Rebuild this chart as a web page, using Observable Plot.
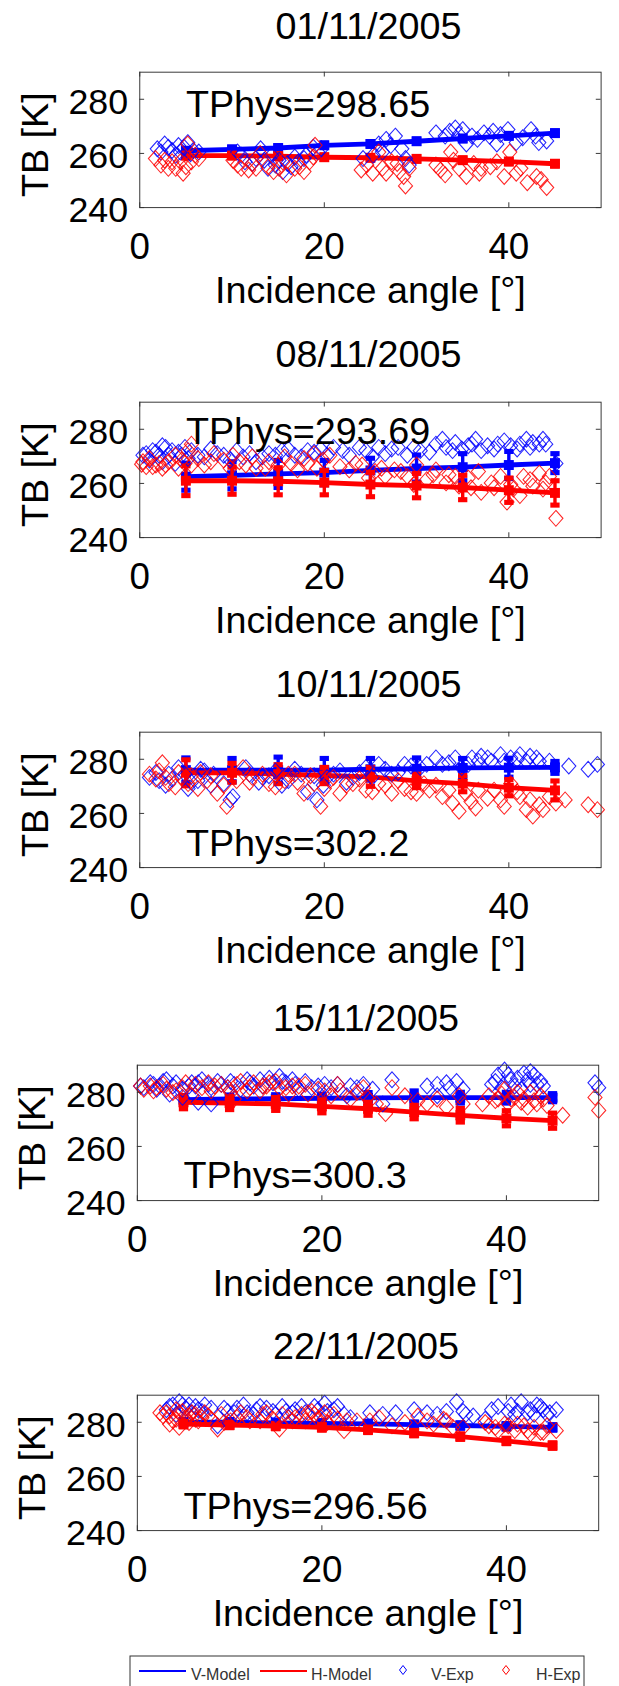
<!DOCTYPE html>
<html>
<head>
<meta charset="utf-8">
<script src="https://cdn.jsdelivr.net/npm/d3@7"></script>
<script src="https://cdn.jsdelivr.net/npm/@observablehq/plot@0.6"></script>
<style>
  html, body { margin: 0; padding: 0; background: #fff; overflow: hidden; }
  #page { position: relative; width: 619px; height: 1686px; overflow: hidden; background: #fff; }
  #page svg { position: absolute; left: 0; }
</style>
</head>
<body>
<div id="page"></div>
<script>
// ---- data -------------------------------------------------------------
const dates = ["01/11/2005", "08/11/2005", "10/11/2005", "15/11/2005", "22/11/2005"];
const tphys = ["298.65", "293.69", "302.2", "300.3", "296.56"];

const modelAngles = [5, 10, 15, 20, 25, 30, 35, 40, 45];

// modelled brightness temperature, vertical / horizontal polarisation (K)
const vModel = [
  [261, 261.5, 262, 263, 263.5, 264.5, 265.5, 266.5, 267.5],
  [262.5, 263, 263.5, 264, 264.8, 265.5, 266, 266.8, 267.5],
  [276, 276, 276, 276, 276.3, 276.5, 276.8, 276.9, 277],
  [277.3, 277.5, 277.6, 277.8, 277.9, 278, 278, 278, 278],
  [280, 280, 279.8, 279.6, 279.4, 279.1, 278.8, 278.5, 278.1]
];
const hModel = [
  [259.2, 259.2, 259, 258.6, 258.4, 258, 257.5, 257, 256.2],
  [261, 261, 260.8, 260.3, 259.6, 259.2, 258.5, 257.5, 256.5],
  [275, 275, 274.5, 274, 273.5, 272, 271, 269.5, 268.5],
  [276.3, 276, 275.7, 274.8, 273.9, 272.7, 271.5, 270.4, 269.5],
  [279.3, 279, 278.6, 278.1, 277.2, 276, 274.7, 273.1, 271.4]
];
// half-width of the model error bars (K)
const vErr = [
  [0.8, 0.8, 0.8, 0.8, 0.8, 0.8, 0.8, 0.8, 0.8],
  [5, 5, 5, 4.5, 4.5, 5, 5, 5, 3.5],
  [4.5, 4.3, 4.8, 4.3, 4, 4, 3.5, 3.5, 2.2],
  [1.5, 1.5, 1.5, 1.5, 2, 2.5, 2, 2, 1.5],
  [1, 1, 1, 1, 1, 1, 1, 1, 1]
];
const hErr = [
  [0.8, 0.8, 0.8, 0.8, 0.8, 0.8, 0.8, 0.8, 0.8],
  [5.5, 5, 5, 4.5, 4.5, 4.5, 4.5, 4.5, 4.5],
  [4.8, 3.5, 3.5, 3, 3.5, 2.5, 3, 3, 3.5],
  [2.4, 2.4, 2.4, 2.4, 2.4, 2.5, 2.5, 2.8, 2.8],
  [1, 1, 1, 1, 1, 1, 1, 1, 1]
];

// measured brightness temperatures: [incidence angle (deg), TB (K)]
const vExp = [
  [[1.9,261.7],[3.1,262.3],[4.2,262.9],[5.2,264],[4.4,260.5],[5.8,261.1],[6.4,260.5],[2.3,260.5],[3.9,259.3],
   [2.7,263.5],[3.5,261.1],[4.8,262.3],[5.5,259.9],
   [10.6,260.5],[11.4,256.9],[12.2,256.3],[13.1,261.7],[13.9,254.5],[14.7,255.7],[15.5,253.3],[16.4,255.1],[17.2,256.9],[18,259.3],[18.8,262.3],[19.7,261.7],[12.6,258.1],[15.1,257.5],[17.8,258.1],
   [11,259.3],[13.5,257.5],[14.3,259.3],[16,256.3],[16.8,258.7],[19.3,260.5],
   [24.2,258.1],[25.9,263.5],[26.7,265.2],[27.7,266.4],[28.4,261.7],[28.8,258.1],[29.2,255.7],[26.3,260.5],[25.3,259.3],[27.2,262.9],
   [32.1,267.6],[33.1,266.4],[34.2,269.4],[35,268.8],[36,266.4],[36.6,265.2],[37.9,266.4],[39.1,267],[39.9,268.8],[40.8,264],[42.4,268.8],[43.25,264],[44.1,264.6],[35.4,263.5],[38.7,263.5],
   [33.6,268.2],[34.6,267],[37.3,267.6],[38.3,268.2],[41.5,265.8],[42.9,266.4]],
  [[0.7,271],[1.4,272.1],[2.1,270.4],[2.8,273.3],[3.5,272.1],[4.2,271.5],[4.9,273.3],[5.6,272.1],[1.05,268.6],[2.45,268],[3.85,267.4],[5.24,269.2],
   [0.35,270.4],[1.75,271.5],[3.15,270.4],[4.54,270.4],[2.45,273.9],
   [7,269.8],[8.4,271],[9.8,268.6],[11.2,269.8],[12.6,268],[14,271],[15.4,272.1],[16.8,270.4],[18.2,272.1],[19.6,272.7],[21,273.3],
   [6.3,270.4],[7.7,272.7],[9.1,270.4],[10.5,272.1],[11.9,271],[13.3,269.8],[14.7,270.4],[16.1,272.7],[17.5,269.8],[18.9,271.5],[20.3,270.4],
   [22,272.1],[23.8,273.3],[25.2,269.8],[26.6,271],[28,273.3],[29,270.4],[30.4,272.1],
   [22.7,270.4],[24.5,272.1],[25.9,273.3],[27.3,272.7],[29.7,273.3],[31.4,271.5],
   [32.1,274.5],[33.2,273.3],[34.2,275.1],[34.9,272.7],[36,274.5],[37,272.1],[37.7,273.9],[38.4,272.7],[39.5,275.7],[40.2,273.9],[41.2,274.5],[41.9,276.3],[42.6,275.1],[43.3,274.5],[44,274.5],[45.1,267.4],
   [32.8,276.3],[33.9,272.1],[35.6,273.9],[36.4,276.3],[38.8,274.5],[40.9,272.7],[42.3,273.3],[43.7,276.3]],
  [[1.05,273.3],[2.1,272.1],[3.15,274.5],[4.2,276.9],[5.24,269.2],[6.3,272.1],[7,275.7],[8,274.5],[9.1,271],[10.1,266.2],[9.8,265],
   [1.75,275.1],[2.8,270.4],[3.5,272.7],[4.9,274.5],[5.6,271.5],[6.6,276.3],[7.7,270.4],
   [11.5,276.9],[13.3,273.3],[14.7,275.7],[16.1,272.1],[17.5,274.5],[18.2,268],[19.2,265],[20.3,273.3],
   [11.9,274.5],[12.9,271.5],[14,273.9],[15.4,270.4],[16.8,276.3],[18.9,273.9],[19.9,270.4],
   [21.7,275.7],[23.1,273.3],[24.5,276.9],[25.9,278.1],[27.3,274.5],[28.7,278.1],[30.4,276.9],[32.1,280.5],[33.5,278.7],[34.9,276.9],[36,280.5],
   [21,274.5],[22.4,271.5],[23.8,275.1],[25.2,273.3],[26.6,276.3],[28,275.1],[29.4,277.5],[31.1,278.1],[32.8,278.1],[34.2,280.5],[35.6,278.1],
   [37,281.1],[38.1,279.3],[39.1,281.7],[40.2,280.5],[41.2,281.7],[42.3,281.1],[43.3,279.3],[44.4,279.3],[46.5,277.5],[48.6,276.3],[49.6,278.1],
   [36.7,279.3],[37.7,280.5],[39.5,279.3],[40.9,279.9],[41.9,279.3],[43,280.5]],
  [[0.7,281.7],[1.75,282.9],[2.8,284],[3.85,282.3],[4.9,281.1],[5.9,283.5],[7,284.6],[8,281.7],[9.1,282.9],[10.1,284],[11.2,281.1],[12.2,283.5],[13.3,284.6],[14.3,285.2],[15.4,285.8],[16.1,283.5],[6.6,276.3],[8,275.7],[4.9,278.1],[3.5,279.3],
   [2.1,281.1],[4.2,283.5],[6.3,282.3],[9.8,281.7],[12.6,282.3],[14.7,283.5],[16.8,284.6],
   [0.35,282.3],[1.4,283.5],[2.45,282.3],[3.15,284.6],[5.6,282.3],[6.6,283.5],[7.7,282.9],[8.7,284],[10.5,282.9],[11.9,284.6],[13.6,282.3],[15.7,284],
   [17.5,281.1],[18.9,281.7],[20.3,282.9],[21.7,282.9],[23.1,282.3],[24.5,282.9],[25.5,281.1],[26.6,275.7],[27.6,284.6],[22.7,278.7],
   [17.1,282.9],[18.2,284],[19.6,282.3],[21,281.7],[23.8,281.7],
   [31.4,282.3],[32.5,282.9],[33.5,283.5],[34.6,284],[35.3,281.1],[32.5,278.7],[33.9,281.7],
   [38.4,282.9],[39.1,286.4],[39.8,288.2],[40.5,284.6],[41.2,285.2],[41.9,287],[42.6,287.6],[43.3,282.9],[39.5,281.7],[41.6,281.1],[42.6,282.9],[43.7,284],
   [38.8,284],[40.2,286.4],[40.9,282.3],[42.3,284.6],[43,286.4],[44,282.3],
   [49.6,283.5],[50,281.7]],
  [[3.15,284.6],[3.85,286.4],[4.54,287.6],[5.24,285.2],[5.9,283.5],[7,284],[8,285.2],[8.7,278.7],[4.2,282.9],[4.9,286.4],[6.3,285.8],
   [3.5,285.8],[5.6,286.4],[6.6,284.6],[7.3,286.4],
   [9.8,284],[10.8,285.2],[11.9,283.5],[12.9,284.6],[14,285.2],[15,282.9],[16.1,284],[17.1,284.6],[18.2,283.5],[19.2,285.8],[20.3,287],[21.3,284.6],[22.4,282.9],[23.1,281.7],
   [9.4,285.2],[10.5,283.5],[11.5,286.4],[12.6,282.9],[13.3,285.8],[14.7,284],[15.7,285.8],[16.8,283.5],[17.8,285.8],[19.6,284.6],[20.6,284],[21.7,285.8],
   [25.2,283.5],[26.6,282.9],[28,283.5],[30,284.6],[31.4,283.5],[32.5,282.9],[33.5,284],[34.6,287.6],[35.3,284],[35.6,282.9],
   [37.7,281.1],[38.4,284.6],[39.1,285.8],[40.2,284],[40.9,282.9],[41.6,287.6],[42.6,284.6],[43.3,286.4],[44,284.6],[44.7,283.5],[45.4,284.6],[43,282.9],
   [36.4,282.3],[40.5,286.4],[41.2,284],[42.3,283.5],[43.7,285.8],[44.4,282.9]]
];
const hExp = [
  [[1.7,258.1],[2.3,255.7],[3.1,254.5],[3.9,254.5],[4.7,252.7],[5.2,263.5],[5.6,256.9],[6.4,258.1],[4.4,256.9],
   [2.7,257.5],[3.5,256.9],[5,255.1],[6,259.3],
   [10.1,257.5],[11,254.5],[11.8,253.9],[12.6,254.5],[13.05,260],[13.9,255.1],[15.1,254.5],[15.9,252.1],[16.8,254.5],[17.8,253.3],[18.4,256.9],[19,263],
   [10.6,255.7],[12.2,256.3],[14.5,253.3],[15.5,256.9],[17.3,255.1],[18.8,258.7],
   [24,253.9],[25.25,252.7],[25.9,260.5],[26.7,252.7],[27.3,256.9],[27.9,256.3],[28.6,251.5],[28.8,248],[28.15,253.3],
   [24.6,255.7],[26.3,254.5],[29.2,254.5],
   [32.1,255.7],[33.1,252.1],[33.7,260.5],[34.6,254.5],[35.4,251.5],[36.2,256.3],[37,254.5],[38.7,256.9],[39.5,251.5],[40.1,260.5],[40.8,252.7],[42,249.2],[43.5,250.4],[44.1,247.4],
   [32.6,253.9],[34,257.5],[36.8,252.7],[38,255.1],[41.3,254.5],[43,251.5]],
  [[0.2,267.1],[0.35,268],[1.05,269.2],[1.75,266.8],[2.45,265.6],[3.15,268],[3.85,270.4],[4.54,268.6],[5.24,272.1],[5.6,266.8],[1.4,266.2],
   [0.7,266.2],[2.1,267.4],[2.8,266.8],[4.2,265.6],[4.9,267.4],[5.6,274.5],
   [7,266.8],[8.04,271],[9.1,268.6],[10.1,270.4],[11.5,266.8],[12.6,265.6],[14,268],[15,266.8],[16.4,267.4],[17.8,269.2],[18.9,271],[19.9,268.6],
   [6.3,269.2],[7.7,268],[9.8,265.6],[10.8,268],[12.2,269.8],[13.6,265.6],[15.7,269.8],[17.1,265],[18.2,267.4],[19.2,265.6],[20.6,270.4],
   [21.7,266.2],[22.7,265],[24.1,266.8],[25.5,264.4],[26.6,262.6],[27.6,265],[29,262.6],[30,266.8],[31.1,261.4],
   [23.4,267.4],[24.8,262],[26.2,265.6],[28.3,264.4],[29.7,259.6],[31.8,263.2],
   [32.1,265],[33.5,263.2],[34.6,259],[35.6,262],[37,256.7],[38.1,260.2],[39.1,262.6],[39.8,253.1],[40.5,257.9],[41.6,262.6],[42.6,259],[43.3,263.8],[44,260.2],[45.1,247.1],
   [33.2,260.2],[34.2,262.6],[35.9,258.4],[36.7,264.4],[38.4,258.4],[40.2,259.6],[41.2,255.5],[42.3,261.4],[43.7,257.9],[44.4,262.6]],
  [[1.05,274.5],[1.75,272.7],[2.45,278.7],[3.15,271],[3.85,269.8],[4.54,273.3],[5.6,273.9],[6.3,269.2],[7.3,272.1],[8.4,267.4],[9.43,262.6],[10.5,272.1],[11.2,276.9],
   [2.1,275.7],[2.8,273.3],[4.2,275.1],[5.24,271],[6.6,275.1],[7.7,273.9],[9.1,270.4],
   [12.2,273.3],[14,271],[15.7,272.1],[16.8,274.5],[17.8,267.4],[18.9,271],[19.6,262.6],[20.6,272.1],
   [11.9,271.5],[13.3,274.5],[14.7,269.8],[16.1,274.5],[17.1,271.5],[18.5,273.9],[20,269.2],
   [21.7,267.4],[23.1,271],[24.5,268.6],[25.9,271],[27.3,267.4],[28.7,269.2],[30,267.4],[31.4,268.6],[32.8,266.2],[33.9,263.8],[34.6,260.8],[35.3,267.4],
   [21,273.3],[22.4,270.4],[23.8,272.7],[25.2,268],[26.6,270.4],[28,272.1],[29.4,268],[30.8,271],[32.1,270.4],[33.5,268.6],
   [36.7,268.6],[37.7,265.6],[39.1,265],[40.2,271],[41.2,266.2],[41.9,261.4],[42.6,259],[43.7,261.4],[45.1,263.8],[46.1,265],[48.6,263.2],[49.6,261.4],
   [35.9,264.4],[36.4,262],[38.4,268.6],[39.5,262.6],[40.9,268],[42.3,265],[43.3,263.2],[44.4,266.2]],
  [[0.7,281.1],[1.75,280.5],[2.8,282.9],[3.85,279.9],[4.9,281.7],[5.9,278.7],[7,281.7],[8,280.5],[9.1,282.9],[10.1,279.9],[11.2,284],[12.2,281.7],[13.3,280.5],[14.3,283.5],[15.4,281.7],[16.4,279.3],[10.5,277.5],
   [1.4,282.3],[3.15,281.1],[5.24,283.5],[7.7,283.5],[9.8,281.7],[12.6,283.5],[14,282.3],[16.1,281.7],
   [0.35,282.3],[2.1,281.7],[4.2,280.5],[6.3,282.9],[8.4,282.3],[10.8,282.9],[11.9,280.5],[13.6,282.3],[15,284],[16.8,282.3],
   [17.5,282.3],[18.5,279.3],[19.6,281.1],[21,278.7],[22,280.5],[23.1,277.5],[24.5,281.7],[25.9,275.7],[26.9,272.1],[27.6,281.7],[25.2,276.9],
   [18.2,282.9],[20.3,280.5],[21.7,282.9],[23.8,279.9],[24.9,278.1],
   [29,278.7],[30.4,276.9],[31.4,275.7],[32.5,277.5],[33.5,274.5],[34.9,278.7],[35.3,275.7],
   [38.1,278.7],[38.8,276.9],[39.5,279.3],[40.2,275.7],[40.9,278.1],[41.6,276.3],[42.3,274.5],[43,276.9],[43.7,278.7],[44.4,275.1],[46.1,271.5],
   [37.4,275.7],[39.1,277.5],[39.8,281.1],[40.5,277.5],[41.2,279.9],[41.9,277.5],[42.6,279.9],[43.3,275.7],[44,277.5],
   [49.6,278.1],[50,273.3]],
  [[2.8,282.3],[3.5,279.3],[4.2,281.1],[4.9,284],[5.6,279.9],[6.3,282.9],[7,281.7],[8,281.1],[8.7,277.5],[4.54,278.1],
   [3.15,283.5],[3.85,280.5],[4.2,284.6],[5.24,281.7],[5.9,283.5],[6.6,280.5],[7.3,283.5],
   [2.45,283.5],[3.5,282.3],[4.54,283.5],[5.6,282.3],[6.3,281.1],[7.7,282.3],
   [9.4,279.9],[10.8,281.7],[12.2,280.5],[13.6,282.9],[14.7,281.1],[15.4,277.5],[16.4,281.7],[17.8,282.9],[18.9,284],[19.6,281.1],[20.6,279.9],[21.7,281.1],[22.4,276.9],
   [17.1,281.7],[18.2,280.5],[19.2,282.9],[20.3,283.5],
   [9.1,282.9],[10.1,280.5],[11.2,283.5],[11.9,281.7],[13.3,280.5],[14,283.5],[15.7,282.9],[16.8,280.5],[18.5,283.5],[19.9,281.7],[21.3,282.9],[22.7,280.5],[23.8,280.5],
   [25.2,280.5],[26.2,281.7],[27.6,278.7],[29,279.9],[30.4,282.3],[31.4,280.5],[33.2,281.1],[34.2,278.1],[35.3,278.1],[32.1,279.3],[33.5,280.5],
   [37.7,279.9],[38.8,278.1],[39.8,279.3],[40.9,276.9],[41.9,278.7],[42.6,275.7],[43.7,276.3],[44.4,278.7],[45.4,276.9],
   [38.1,278.7],[39.1,276.9],[40.2,278.7],[41.2,279.3],[42.3,276.9],[43,278.1],[44,276.3]]
];

const xTicks = [0, 20, 40];
const yTicks = [240, 260, 280];
// where each "TPhys=" note sits, in data units [angle, TB]
const tphysAt = [[5, 273.6], [5, 274.5], [5, 244.2], [5, 244.8], [5, 244.2]];

// ---- layout -------------------------------------------------------------
const FONT = "'Liberation Sans', Arial, Helvetica, sans-serif";
const BLUE = "#0000ff", RED = "#ff0000", INK = "#333";
const frameTop = [74, 404, 734, 1067, 1397];
const frameLeft = [144, 144, 144, 141.5, 141.5];
const titleGap = [34, 36, 36, 35, 37];
const FRAME_W = 477, FRAME_H = 140;
const M_TOP = 70, M_BOTTOM = 110, SVG_W = 640;

// hollow diamond, a little taller than wide
const diamond = {
  draw(ctx, size) {
    const r = Math.sqrt(size / Math.PI), h = r * 1.12;
    ctx.moveTo(0, -h); ctx.lineTo(r, 0); ctx.lineTo(0, h); ctx.lineTo(-r, 0); ctx.closePath();
  }
};
// flat block used as error-bar cap
const cap = {
  draw(ctx, size) {
    const r = Math.sqrt(size / Math.PI);
    ctx.rect(-r, -r * 0.55, 2 * r, r * 1.1);
  }
};

function modelRows(vals, errs) {
  return modelAngles.map((a, k) => ({a, tb: vals[k], lo: vals[k] - errs[k], hi: vals[k] + errs[k]}));
}

function modelMarks(rows, color) {
  return [
    Plot.line(rows, {x: "a", y: "tb", stroke: color, strokeWidth: 5}),
    Plot.ruleX(rows, {x: "a", y1: "lo", y2: "hi", stroke: color, strokeWidth: 3.5}),
    Plot.dot(rows, {x: "a", y: "lo", symbol: cap, r: 4.8, fill: color}),
    Plot.dot(rows, {x: "a", y: "hi", symbol: cap, r: 4.8, fill: color}),
    Plot.dot(rows, {x: "a", y: "tb", symbol: "square", r: 5.8, fill: color})
  ];
}

function expMarks(points, color) {
  return Plot.dot(points, {x: d => d[0], y: d => d[1], symbol: diamond, r: 7.3,
    stroke: color, fill: "none", strokeWidth: 1.1, strokeOpacity: 0.85});
}

function panel(i) {
  const ml = frameLeft[i];
  const inX = FRAME_W - 5, inY = FRAME_H - 5;
  const svg = Plot.plot({
    width: SVG_W,
    height: M_TOP + FRAME_H + M_BOTTOM,
    marginTop: M_TOP,
    marginBottom: M_BOTTOM,
    marginLeft: ml,
    marginRight: SVG_W - ml - FRAME_W,
    x: {domain: [0, 50], axis: null},
    y: {domain: [240, 290], axis: null},
    style: {fontFamily: FONT, color: "#000", background: "transparent", overflow: "visible"},
    marks: [
      ...modelMarks(modelRows(vModel[i], vErr[i]), BLUE),
      ...modelMarks(modelRows(hModel[i], hErr[i]), RED),
      expMarks(vExp[i], BLUE),
      expMarks(hExp[i], RED),
      Plot.frame({stroke: INK, strokeWidth: 1}),
      // inward ticks on all four sides
      Plot.tickX(xTicks, {x: d => d, insetBottom: inY, stroke: INK}),
      Plot.tickX(xTicks, {x: d => d, insetTop: inY, stroke: INK}),
      Plot.tickY(yTicks, {y: d => d, insetRight: inX, stroke: INK}),
      Plot.tickY(yTicks, {y: d => d, insetLeft: inX, stroke: INK}),
      // tick labels
      Plot.text(xTicks, {x: d => d, text: d => String(d), frameAnchor: "bottom", dy: 53,
        lineAnchor: "bottom", fontSize: 38, fill: "#000"}),
      Plot.text(yTicks, {y: d => d, text: d => String(d), frameAnchor: "left", dx: -12, dy: 15,
        textAnchor: "end", lineAnchor: "bottom", fontSize: 37, fill: "#000"}),
      // axis labels
      Plot.text(["Incidence angle [°]"], {frameAnchor: "bottom", dy: 99, lineAnchor: "bottom",
        fontSize: 39, fill: "#000"}),
      Plot.text(["TB [K]"], {frameAnchor: "left", dx: -95, dy: 5, rotate: -90,
        lineAnchor: "bottom", textAnchor: "middle", fontSize: 39, fill: "#000"}),
      // panel title
      Plot.text([dates[i]], {frameAnchor: "top", dy: -titleGap[i], dx: -2, lineAnchor: "bottom",
        fontSize: 39, fill: "#000"}),
      // physical temperature note
      Plot.text([tphysAt[i]], {x: d => d[0], y: d => d[1], text: () => "TPhys=" + tphys[i],
        textAnchor: "start", lineAnchor: "bottom", fontSize: 39, fill: "#000"})
    ]
  });
  svg.style.top = (frameTop[i] - M_TOP) + "px";
  return svg;
}

const page = document.getElementById("page");
dates.forEach((_, i) => page.appendChild(panel(i)));

// ---- legend (bottom, partly outside the page) ----------------------------
const legendItems = [
  {label: "V-Model", color: BLUE, kind: "line", x: 9, tx: 61},
  {label: "H-Model", color: RED, kind: "line", x: 130, tx: 181},
  {label: "V-Exp", color: BLUE, kind: "diamond", x: 273, tx: 301},
  {label: "H-Exp", color: RED, kind: "diamond", x: 376, tx: 406}
];
const legend = d3.create("svg")
  .attr("width", 456).attr("height", 40)
  .style("left", "129px").style("top", "1655px");
legend.append("rect").attr("x", 1).attr("y", 1).attr("width", 454).attr("height", 60)
  .attr("fill", "#fff").attr("stroke", INK).attr("stroke-width", 1);
for (const it of legendItems) {
  if (it.kind === "line") {
    legend.append("line").attr("x1", it.x + 1).attr("x2", it.x + 48)
      .attr("y1", 16).attr("y2", 16).attr("stroke", it.color).attr("stroke-width", 2);
  } else {
    legend.append("path").attr("transform", `translate(${it.x + 1},15)`)
      .attr("d", "M0,-4.5L3.5,0L0,4.5L-3.5,0Z")
      .attr("fill", "none").attr("stroke", it.color).attr("stroke-width", 1);
  }
  legend.append("text").attr("x", it.tx + 1).attr("y", 25).text(it.label)
    .attr("font-family", FONT).attr("font-size", 16).attr("fill", "#333");
}
page.appendChild(legend.node());
</script>
</body>
</html>
